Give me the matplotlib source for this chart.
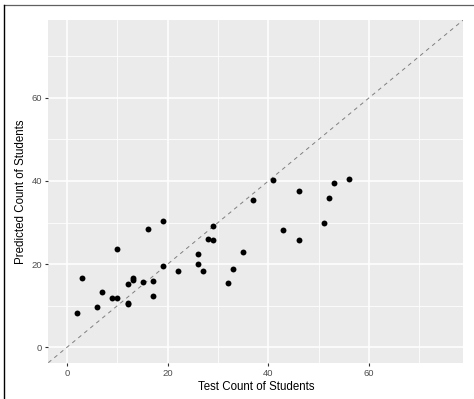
import numpy as np
import matplotlib.pyplot as plt
from matplotlib.lines import Line2D

# test vs predicted counts
test_count = [2, 3, 6, 7, 9, 10, 10, 12, 12, 12, 13, 13, 15, 16, 17, 17, 19, 19,
              22, 26, 26, 27, 28, 29, 29, 32, 33, 35, 37, 41, 43, 46, 46, 51, 52, 53, 56]
pred_count = [8.1, 16.7, 9.7, 13.2, 11.9, 11.9, 23.6, 15.2, 10.3, 10.6, 16.7, 16.1,
              15.7, 28.4, 15.9, 12.3, 30.4, 19.6, 18.3, 22.4, 20.1, 18.4, 26.1, 25.9,
              29.2, 15.4, 18.8, 22.8, 35.3, 40.2, 28.2, 37.5, 25.8, 29.8, 36.0, 39.5, 40.5]

ticks = [0, 20, 40, 60]
minor = [10, 30, 50, 70]
lim = (0 - 0.05 * 75, 75 + 0.05 * 75)

plt.rcParams['font.family'] = ['Liberation Sans', 'DejaVu Sans']

fig = plt.figure(figsize=(4.74, 3.99), dpi=100)
W, H = 474, 399
ax = fig.add_axes([48.3 / W, 1 - 362.7 / H, (463.3 - 48.3) / W, (362.7 - 20) / H])

ax.set_facecolor('#EBEBEB')
for s in ax.spines.values():
    s.set_visible(False)

ax.set_xlim(lim)
ax.set_ylim(lim)
ax.set_xticks(ticks)
ax.set_yticks(ticks)
ax.set_xticks(minor, minor=True)
ax.set_yticks(minor, minor=True)
ax.grid(which='major', color='white', linewidth=1.1)
ax.grid(which='minor', color='white', linewidth=0.55)
ax.set_axisbelow(True)
ax.tick_params(which='major', length=2.5, width=0.8, color='#333333',
               labelsize=6.8, labelcolor='#4D4D4D', pad=2)
ax.tick_params(which='minor', length=0)

ax.plot(lim, lim, linestyle=(0, (4, 4)), color='#7F7F7F', linewidth=0.7, zorder=2)
ax.scatter(test_count, pred_count, s=18, color='black', zorder=3, linewidths=0)

ax.set_xlabel('Test Count of Students', fontsize=8.3, labelpad=2)
ax.set_ylabel('Predicted Count of Students', fontsize=8.3, labelpad=3)

# frame left over from the screenshot
fig.add_artist(Line2D([4 / W, 1], [1 - 5 / H, 1 - 5 / H], color='#606060', linewidth=0.9))
fig.add_artist(Line2D([4 / W, 4 / W], [0, 1 - 5 / H], color='black', linewidth=1.0))

fig.savefig('out.png', dpi=100)
